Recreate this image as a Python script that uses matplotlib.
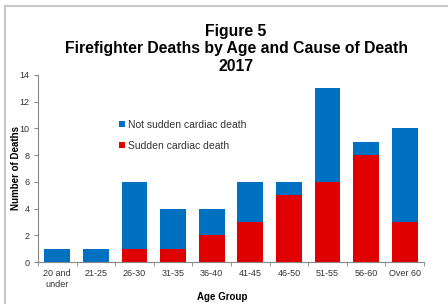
import matplotlib.pyplot as plt
import numpy as np
from matplotlib.lines import Line2D

# Données
groupes = ["20 and\nunder", "21-25", "26-30", "31-35", "36-40",
           "41-45", "46-50", "51-55", "56-60", "Over 60"]
cardiaque = [0, 0, 1, 1, 2, 3, 5, 6, 8, 3]
non_cardiaque = [1, 1, 5, 3, 2, 3, 1, 7, 1, 7]

plt.rcParams['font.family'] = ['Liberation Sans', 'DejaVu Sans']

W, H = 448, 304
fig = plt.figure(figsize=(W / 100, H / 100), dpi=100)
ax = fig.add_axes([38 / W, 1 - 262 / H, (424 - 38) / W, (262 - 75) / H])

x = np.arange(len(groupes))
ax.bar(x, cardiaque, width=0.67, color='#e00000', label='Sudden cardiac death', zorder=2)
ax.bar(x, non_cardiaque, width=0.67, bottom=cardiaque, color='#0070c0',
       label='Not sudden cardiac death', zorder=2)

ax.set_xlim(-0.5, len(groupes) - 0.5)
ax.set_ylim(0, 14)
ax.set_yticks(range(0, 15, 2))
ax.set_xticks(x)
ax.set_xticklabels(groupes, fontsize=6.5, color='#333333', linespacing=1.3)
ax.set_xticks(np.arange(-0.5, len(groupes)), minor=True)
ax.tick_params(axis='x', which='major', length=0, pad=5)
ax.tick_params(axis='x', which='minor', length=3, color='#888888')
ax.tick_params(axis='y', length=3, color='#888888', labelsize=6.5, labelcolor='#333333', pad=3)

for side in ['top', 'right']:
    ax.spines[side].set_visible(False)
for side in ['left', 'bottom']:
    ax.spines[side].set_color('#888888')
    ax.spines[side].set_linewidth(0.8)

ax.set_ylabel("Number of Deaths", fontsize=7, fontweight='bold')
ax.yaxis.set_label_coords(-17 / (424 - 38), 0.5)

# Titre de l'axe x placé à la main pour ne pas être coupé
fig.text(222 / W, 1 - 297 / H, "Age Group", ha='center', va='center',
         fontsize=7, fontweight='bold')

# Légende : ordre inversé (non cardiaque en haut)
handles, labels = ax.get_legend_handles_labels()
ax.legend(handles[::-1], labels[::-1], loc='upper left', bbox_to_anchor=(0.185, 0.81),
          frameon=False, fontsize=7.5, handlelength=0.55, handleheight=0.55,
          handletextpad=0.3, labelspacing=1.05, labelcolor='#333333')

fig.text(236 / W, 1 - 24 / H, "Figure 5\nFirefighter Deaths by Age and Cause of Death\n2017",
         ha='center', va='top', fontsize=11.3, fontweight='bold', linespacing=1.2)

# Cadre gris autour de l'image
bord = '#c8c8c8'
fig.add_artist(Line2D([5 / W, 5 / W], [0, 1 - 6 / H], color=bord, lw=1.5))
fig.add_artist(Line2D([5 / W, 1], [1 - 6 / H, 1 - 6 / H], color=bord, lw=1.5))

fig.savefig('out.png', dpi=100)
